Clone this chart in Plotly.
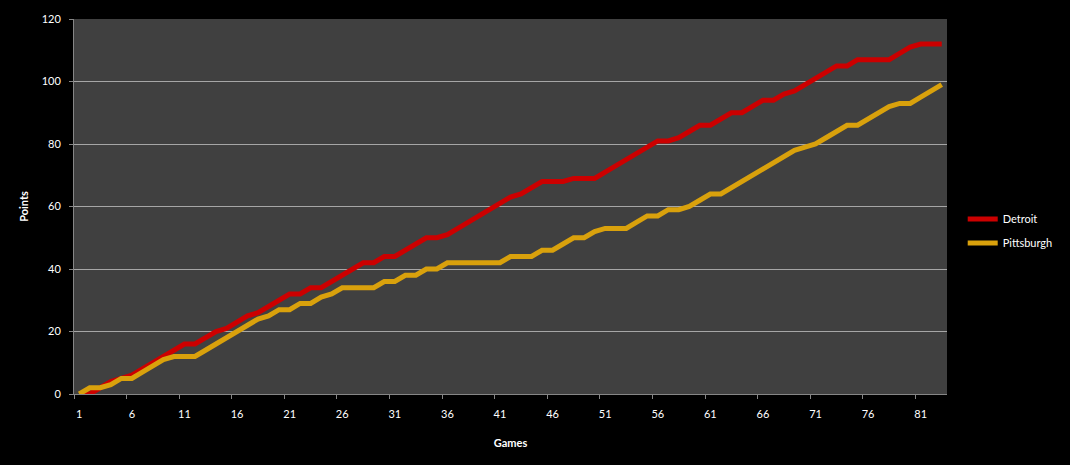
import plotly.graph_objects as go

games = list(range(1, 84))
tick_labels = [str(g) for g in range(1, 84, 5)]

detroit = [0, 0, 2, 4, 5, 6, 8, 10, 12, 14,
           16, 16, 18, 20, 21, 23, 25, 26, 28, 30,
           32, 32, 34, 34, 36, 38, 40, 42, 42, 44,
           44, 46, 48, 50, 50, 51, 53, 55, 57, 59,
           61, 63, 64, 66, 68, 68, 68, 69, 69, 69,
           71, 73, 75, 77, 79, 81, 81, 82, 84, 86,
           86, 88, 90, 90, 92, 94, 94, 96, 97, 99,
           101, 103, 105, 105, 107, 107, 107, 107, 109, 111,
           112, 112, 112]

pittsburgh = [0, 2, 2, 3, 5, 5, 7, 9, 11, 12,
              12, 12, 14, 16, 18, 20, 22, 24, 25, 27,
              27, 29, 29, 31, 32, 34, 34, 34, 34, 36,
              36, 38, 38, 40, 40, 42, 42, 42, 42, 42,
              42, 44, 44, 44, 46, 46, 48, 50, 50, 52,
              53, 53, 53, 55, 57, 57, 59, 59, 60, 62,
              64, 64, 66, 68, 70, 72, 74, 76, 78, 79,
              80, 82, 84, 86, 86, 88, 90, 92, 93, 93,
              95, 97, 99]

font_family = "Lato, 'Open Sans', sans-serif"
x_range = [games[0] - 0.5, games[-1] + 0.5]

fig = go.Figure()
fig.add_trace(go.Scatter(x=games, y=detroit, mode="lines", name="Detroit",
                         legendgroup="det",
                         line=dict(color="#cc0000", width=5)))
fig.add_trace(go.Scatter(x=games, y=pittsburgh, mode="lines", name="Pittsburgh",
                         legendgroup="pit",
                         line=dict(color="#d9a10c", width=5)))

fig.update_layout(
    width=1070, height=465,
    margin=dict(l=74, r=120, t=12, b=71),
    paper_bgcolor="black",
    plot_bgcolor="#404040",
    font=dict(family=font_family, color="white", size=11),
    showlegend=True,
    legend=dict(x=1.018, y=0.435, xanchor="left", yanchor="middle",
                bgcolor="rgba(0,0,0,0)", font=dict(size=11, color="white"),
                tracegroupgap=5, itemwidth=30),
    xaxis=dict(range=x_range, tickmode="array",
               tickvals=[int(t) for t in tick_labels], ticktext=tick_labels,
               tickangle=0, ticks="",
               showline=True, linecolor="#868686", linewidth=1,
               showgrid=False, zeroline=False, ticklabelstandoff=10,
               tickfont=dict(size=11, color="white"),
               title=dict(text="<b>Games</b>", font=dict(size=11, color="white"), standoff=20)),
    xaxis2=dict(range=x_range, overlaying="x", side="bottom", anchor="y",
                tickmode="linear", tick0=x_range[0], dtick=5,
                ticks="outside", ticklen=4, tickcolor="#868686",
                showticklabels=False, showgrid=False, zeroline=False,
                showline=False),
    yaxis=dict(range=[0, 120], dtick=20, tickmode="linear", tick0=0,
               ticks="outside", ticklen=4, tickcolor="#868686",
               showline=True, linecolor="#868686", linewidth=1,
               showgrid=True, gridcolor="#a6a6a6", gridwidth=1,
               zeroline=False, ticklabelstandoff=6,
               tickfont=dict(size=11, color="white"),
               title=dict(text="<b>Points</b>", font=dict(size=11, color="white"), standoff=10)),
)
# invisible helper trace to activate the tick-mark axis
fig.add_trace(go.Scatter(x=[x_range[0]], y=[0], xaxis="x2", mode="markers",
                         marker=dict(opacity=0), showlegend=False, hoverinfo="skip"))

fig.write_html("out.html")
